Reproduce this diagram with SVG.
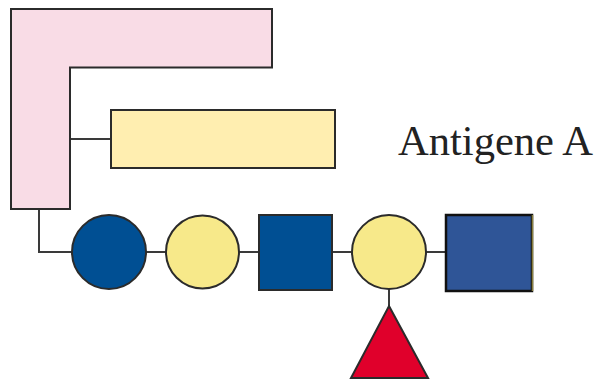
<svg xmlns="http://www.w3.org/2000/svg" width="599" height="379" viewBox="0 0 599 379">
<style>
.s{stroke:#2b2b2b;stroke-width:2}
.ln{stroke:#3a3a3a;stroke-width:2;fill:none}
</style>
<rect width="599" height="379" fill="#fff"/>
<g id="connectors">
<line class="ln" x1="70" y1="139" x2="111" y2="139"/>
<polyline class="ln" points="39,209 39,252 72,252"/>
<line class="ln" x1="146" y1="252" x2="166" y2="252"/>
<line class="ln" x1="239" y1="252" x2="259" y2="252"/>
<line class="ln" x1="332" y1="252" x2="352" y2="252"/>
<line class="ln" x1="426" y1="252" x2="446" y2="252"/>
<line class="ln" x1="389" y1="289" x2="389" y2="306"/>
</g>
<g id="lshape"><path class="s" fill="#f9dce6" d="M11,9 H272 V67.5 H70 V209 H11 Z"/></g>
<g id="rect"><rect class="s" x="111" y="110" width="224" height="58" fill="#ffeeb0"/></g>
<g id="circle1"><circle class="s" cx="109" cy="252" r="37" fill="#004f93"/></g>
<g id="circle2"><circle class="s" cx="202.5" cy="252" r="36.5" fill="#f7e98a"/></g>
<g id="square1"><rect class="s" x="259" y="215" width="73" height="75" fill="#004f93"/></g>
<g id="circle3"><circle class="s" cx="389" cy="252" r="37" fill="#f7e98a"/></g>
<g id="square2"><rect x="446" y="215" width="86" height="76" fill="#2f5597" stroke="#111" stroke-width="2.5"/><line x1="532.5" y1="215" x2="532.5" y2="291" stroke="#8a8040" stroke-width="1.5"/></g>
<g id="triangle"><polygon class="s" points="389,306 428,378 351,378" fill="#e0002b"/></g>
<g id="label"><text x="398" y="155" font-family="Liberation Serif, serif" font-size="43" fill="#222" textLength="195" lengthAdjust="spacingAndGlyphs">Antigene A</text></g>
</svg>
